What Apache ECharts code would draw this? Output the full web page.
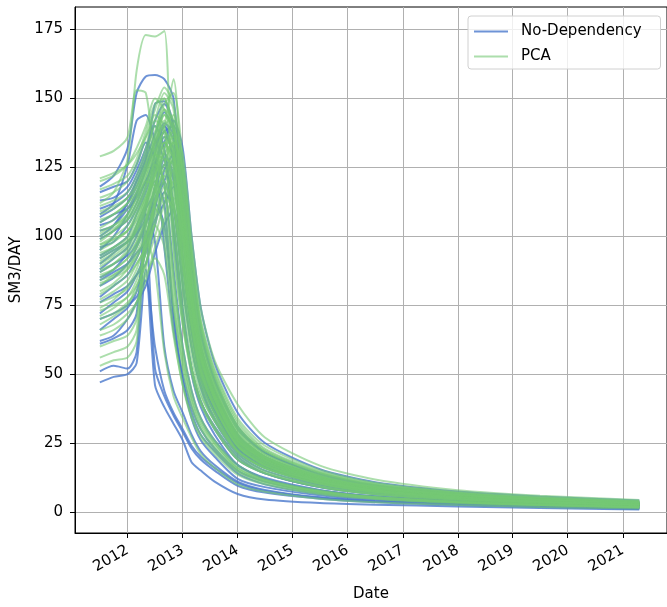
<!DOCTYPE html>
<html>
<head>
<meta charset="utf-8">
<script src="https://cdn.jsdelivr.net/npm/echarts@6/dist/echarts.min.js"></script>
<style>
  html, body { margin: 0; padding: 0; background: #fff; }
  #chart { width: 667px; height: 607px; }
</style>
</head>
<body>
<div id="chart"></div>
<script>
// sample dates shared by every forecast line
const dates = ['2011-07-01', '2011-10-01', '2012-01-01', '2012-03-01', '2012-05-01', '2012-07-01',
  '2012-09-01', '2012-11-01', '2013-01-01', '2013-03-01', '2013-05-01', '2013-08-01', '2014-01-01',
  '2014-07-01', '2015-07-01', '2016-07-01', '2018-01-01', '2019-07-01', '2021-04-20']

// No-Dependency realisations (SM3/DAY)
const noDependency = [
  [118, 122, 132, 152, 158, 158.5, 157, 150, 112, 80, 58, 43, 27, 19.5, 12.5, 8.8, 6.0, 4.3, 3.1],
  [108, 112, 126, 142, 144, 135, 128, 112, 82, 60, 46, 34, 22, 16, 10.5, 7.5, 5.0, 3.7, 2.6],
  [100, 104, 112, 120, 128, 148, 149, 140, 104, 74, 54, 40, 25, 18, 11.5, 8.0, 5.5, 4.0, 2.8],
  [95, 100, 108, 115, 124, 134, 138, 140, 126, 92, 66, 48, 31, 21.5, 13.5, 9.5, 6.6, 4.8, 3.5],
  [47, 49, 50, 54, 88, 46, 38, 32, 26, 18, 15, 11, 6.5, 4.5, 3.2, 2.6, 2.0, 1.4, 0.9],
  [51, 53, 52, 58, 102, 52, 42, 35, 29, 23, 19, 15, 9.5, 7, 4.8, 3.5, 2.5, 1.8, 1.1],
  [61, 63, 66, 72, 110, 120, 112, 70, 48, 36, 28, 22, 14, 10, 6.5, 4.8, 3.3, 2.4, 1.6],
  [66, 70, 74, 80, 96, 118, 126, 104, 74, 52, 40, 30, 19, 14, 9, 6.5, 4.4, 3.2, 2.2],
  [72, 76, 80, 86, 94, 110, 124, 130, 104, 72, 52, 39, 24, 17, 11, 7.8, 5.2, 3.8, 2.6],
  [78, 82, 86, 92, 100, 112, 120, 128, 114, 82, 60, 44, 28, 19.5, 12.2, 8.6, 5.8, 4.2, 3.0],
  [82, 85, 90, 96, 104, 118, 130, 122, 92, 66, 48, 36, 22, 16, 10, 7.2, 4.9, 3.6, 2.5],
  [85, 88, 94, 100, 108, 98, 60, 44, 36, 28, 22, 17, 11, 8, 5.3, 4, 2.9, 2.1, 1.4],
  [88, 92, 96, 104, 112, 124, 136, 132, 108, 78, 57, 41, 26, 18.5, 12, 8.4, 5.6, 4.1, 2.9],
  [90, 94, 98, 102, 110, 116, 128, 120, 92, 66, 49, 37, 23, 17, 10.8, 7.6, 5.1, 3.7, 2.6],
  [93, 96, 100, 108, 116, 126, 138, 128, 100, 74, 54, 40, 25, 18, 11.4, 8, 5.4, 3.9, 2.7],
  [96, 98, 104, 110, 118, 130, 140, 135, 112, 82, 60, 44, 28, 20, 12.8, 9, 6.1, 4.4, 3.1],
  [99, 102, 106, 112, 120, 127, 119, 88, 60, 44, 34, 26, 17, 12, 7.8, 5.6, 3.8, 2.8, 1.9],
  [102, 104, 110, 116, 124, 132, 140, 126, 92, 66, 49, 36, 23, 16.5, 10.5, 7.4, 5, 3.6, 2.5],
  [104, 106, 112, 118, 126, 134, 141, 137, 120, 88, 64, 47, 30, 21.5, 13.8, 9.7, 6.7, 4.9, 3.6],
  [107, 110, 114, 120, 128, 137, 145, 138, 106, 76, 56, 42, 26, 19, 12, 8.4, 5.7, 4.1, 2.9],
  [110, 112, 116, 122, 130, 140, 132, 100, 70, 52, 40, 31, 20, 14, 9, 6.5, 4.4, 3.2, 2.2],
  [113, 114, 118, 124, 132, 142, 148, 140, 110, 78, 58, 43, 27, 19.5, 12.4, 8.7, 5.9, 4.3, 3],
  [116, 118, 120, 126, 134, 128, 96, 66, 50, 38, 30, 23, 15, 11, 7, 5.1, 3.5, 2.5, 1.7],
  [70, 72, 75, 78, 84, 60, 44, 36, 30, 24, 20, 16, 10.5, 7.6, 5.1, 3.8, 2.7, 2, 1.3],
  [76, 79, 82, 86, 90, 104, 116, 110, 84, 60, 45, 33, 21, 15, 9.6, 6.9, 4.7, 3.4, 2.4],
  [84, 87, 90, 94, 98, 106, 112, 118, 102, 76, 56, 42, 26, 18.6, 12, 8.4, 5.7, 4.1, 2.9],
  [87, 90, 93, 97, 105, 114, 120, 104, 72, 50, 38, 28, 17, 12.4, 8, 5.7, 3.9, 2.8, 1.9],
  [92, 95, 98, 101, 106, 112, 104, 72, 48, 34, 26, 20, 12, 9, 6, 4.4, 3.1, 2.2, 1.5],
  [62, 64, 70, 76, 82, 94, 104, 110, 90, 66, 50, 38, 24, 17.5, 11.2, 7.9, 5.4, 3.9, 2.8],
  [105, 108, 110, 114, 120, 126, 134, 142, 132, 100, 74, 54, 36, 25, 15.5, 10.8, 7.4, 5.6, 4.1]
]

// PCA realisations (SM3/DAY)
const pca = [
  [112, 116, 128, 160, 173, 172.5, 174.5, 95, 68, 52, 42, 33, 22, 16, 10.5, 7.5, 5.1, 3.7, 2.6],
  [129, 131, 136, 153, 152, 130, 128, 120, 94, 68, 50, 38, 24, 17, 11, 7.8, 5.3, 3.8, 2.7],
  [98, 102, 108, 114, 122, 130, 140, 157, 118, 84, 61, 45, 28, 20, 12.6, 8.8, 6.0, 4.3, 3.1],
  [120, 122, 126, 132, 140, 150, 146, 138, 110, 80, 59, 43, 27, 19.5, 12.4, 8.7, 5.9, 4.3, 3.0],
  [53, 55, 56, 62, 98, 112, 120, 104, 72, 52, 40, 30, 19, 14, 9, 6.4, 4.4, 3.2, 2.2],
  [56, 58, 60, 66, 100, 88, 58, 42, 34, 27, 21, 16, 10, 7.3, 4.8, 3.5, 2.5, 1.8, 1.2],
  [60, 62, 64, 70, 104, 118, 126, 116, 88, 64, 48, 36, 22, 16, 10.2, 7.3, 4.9, 3.6, 2.5],
  [64, 66, 70, 76, 88, 110, 122, 128, 104, 76, 56, 41, 26, 18.5, 11.8, 8.3, 5.6, 4.1, 2.9],
  [68, 71, 75, 82, 90, 106, 118, 112, 82, 60, 46, 35, 22, 16, 10.3, 7.3, 5, 3.6, 2.5],
  [71, 74, 78, 84, 94, 112, 124, 118, 92, 68, 51, 38, 24, 17, 11, 7.7, 5.2, 3.8, 2.7],
  [74, 77, 82, 88, 98, 114, 128, 126, 106, 78, 57, 42, 26, 19, 12, 8.5, 5.8, 4.2, 3],
  [77, 80, 84, 90, 96, 104, 96, 66, 46, 34, 27, 21, 13.5, 10, 6.4, 4.7, 3.2, 2.4, 1.6],
  [80, 83, 88, 94, 102, 116, 130, 122, 96, 70, 52, 39, 24, 17.5, 11.2, 7.9, 5.4, 3.9, 2.7],
  [82, 86, 90, 96, 106, 120, 134, 128, 100, 74, 55, 41, 25, 18, 11.6, 8.2, 5.5, 4, 2.8],
  [85, 88, 92, 98, 108, 124, 138, 130, 104, 76, 56, 42, 26, 19, 12, 8.5, 5.8, 4.2, 3],
  [87, 90, 95, 100, 110, 126, 120, 86, 60, 44, 34, 26, 17, 12, 7.8, 5.6, 3.8, 2.8, 1.9],
  [89, 92, 96, 102, 112, 128, 142, 134, 108, 78, 58, 43, 27, 19.5, 12.4, 8.7, 5.9, 4.3, 3],
  [91, 94, 98, 104, 114, 122, 132, 136, 120, 88, 64, 47, 30, 21, 13.4, 9.4, 6.5, 4.8, 3.5],
  [93, 96, 100, 106, 116, 130, 144, 138, 110, 78, 57, 43, 27, 19, 12.2, 8.6, 5.8, 4.2, 3],
  [95, 98, 102, 108, 118, 132, 146, 126, 90, 64, 48, 36, 23, 16.5, 10.6, 7.5, 5.1, 3.7, 2.6],
  [97, 100, 104, 110, 120, 134, 140, 144, 122, 90, 66, 49, 31, 22, 14, 9.8, 6.7, 4.9, 3.6],
  [99, 102, 106, 112, 122, 136, 150, 140, 106, 76, 56, 42, 26, 18.8, 12, 8.4, 5.7, 4.1, 2.9],
  [101, 104, 108, 114, 124, 130, 118, 84, 58, 42, 33, 25, 16, 11.5, 7.4, 5.3, 3.7, 2.7, 1.8],
  [103, 106, 110, 116, 126, 138, 148, 152, 128, 94, 68, 50, 32, 22.5, 14.4, 10, 6.9, 5.0, 3.7],
  [105, 108, 112, 118, 128, 140, 130, 96, 68, 50, 39, 30, 19, 14, 9, 6.4, 4.4, 3.2, 2.2],
  [108, 110, 114, 120, 130, 142, 152, 146, 114, 82, 60, 45, 28, 20, 12.8, 9, 6.1, 4.4, 3.1],
  [111, 113, 116, 122, 132, 144, 140, 110, 78, 56, 43, 33, 21, 15, 9.7, 6.9, 4.7, 3.4, 2.4],
  [114, 116, 120, 126, 136, 146, 154, 148, 124, 92, 67, 49, 31, 22, 14, 9.8, 6.8, 5.0, 3.7],
  [117, 119, 122, 128, 138, 148, 150, 132, 100, 72, 53, 40, 25, 18, 11.5, 8.1, 5.5, 4, 2.8],
  [121, 123, 126, 130, 136, 142, 138, 104, 72, 52, 40, 31, 20, 14.4, 9.3, 6.6, 4.5, 3.3, 2.3],
  [79, 82, 86, 90, 96, 112, 126, 134, 126, 96, 70, 52, 34, 24, 15.2, 10.6, 7.3, 5.4, 4.0],
  [86, 88, 92, 96, 104, 118, 132, 138, 130, 100, 74, 55, 39, 27, 16.8, 11.8, 7.9, 5.9, 4.3],
  [92, 95, 98, 102, 110, 122, 134, 124, 92, 68, 50, 38, 24, 17, 11, 7.8, 5.3, 3.8, 2.7],
  [96, 99, 102, 106, 114, 126, 136, 130, 102, 74, 55, 41, 26, 18.5, 11.8, 8.3, 5.6, 4.1, 2.9],
  [100, 103, 106, 110, 118, 128, 138, 132, 104, 76, 56, 41, 25, 18, 11.5, 8.1, 5.5, 4, 2.8],
  [84, 86, 89, 93, 100, 110, 104, 76, 52, 38, 30, 23, 15, 10.8, 7, 5, 3.5, 2.5, 1.7],
  [73, 75, 78, 82, 90, 100, 112, 120, 98, 72, 53, 39, 24, 17.5, 11.2, 7.9, 5.4, 3.9, 2.7],
  [109, 111, 114, 118, 126, 136, 146, 142, 112, 80, 59, 44, 28, 20, 12.7, 8.9, 6, 4.4, 3.1],
  [66, 68, 72, 76, 84, 96, 106, 114, 100, 76, 57, 42, 27, 19.5, 12.4, 8.7, 5.9, 4.3, 3],
  [94, 96, 99, 104, 112, 120, 110, 80, 56, 41, 32, 25, 16, 11.6, 7.5, 5.3, 3.7, 2.7, 1.8],
  [90, 93, 97, 103, 112, 124, 134, 128, 110, 80, 60, 45, 29, 20.5, 13, 9.1, 6.2, 4.5, 3.2],
  [83, 85, 88, 92, 100, 108, 116, 124, 112, 84, 62, 46, 29, 20, 12.8, 9, 6.1, 4.4, 3.1],
  [102, 104, 107, 112, 120, 118, 100, 74, 54, 40, 31, 24, 15.5, 11.2, 7.2, 5.2, 3.6, 2.6, 1.8],
  [76, 78, 81, 86, 94, 104, 114, 110, 90, 68, 51, 38, 24, 17, 11, 7.7, 5.3, 3.8, 2.7],
  [88, 90, 94, 98, 106, 116, 122, 112, 84, 60, 45, 34, 22, 15.8, 10.2, 7.2, 4.9, 3.6, 2.5],
  [106, 108, 112, 116, 124, 134, 144, 140, 116, 86, 63, 47, 30, 21, 13.3, 9.3, 6.4, 4.6, 3.3],
  [70, 72, 76, 80, 86, 92, 86, 64, 46, 35, 28, 22, 14.5, 10.5, 6.8, 4.9, 3.4, 2.5, 1.7],
  [97, 99, 102, 108, 114, 122, 130, 134, 124, 94, 69, 51, 33, 23, 14.6, 10.2, 7, 5.2, 3.8]
]

const yTicks = [0, 25, 50, 75, 100, 125, 150, 175]
const xTickYears = [2012, 2013, 2014, 2015, 2016, 2017, 2018, 2019, 2020, 2021]

const blue = '#4a78cc'
const green = '#74c874'
const font = 'DejaVu Sans'

const toTime = function (s) {
  let p = s.split('-').map(Number)
  return new Date(p[0], p[1] - 1, p[2]).getTime()
}
const yearTicks = xTickYears.map(y => new Date(y, 0, 1).getTime())

function makeLines(name, rows, color, opacity) {
  return rows.map(row => ({
    name: name,
    type: 'line',
    symbol: 'none',
    smooth: 0.25,
    silent: true,
    data: row.map((v, i) => [toTime(dates[i]), v]),
    lineStyle: { color: color, width: 2, opacity: opacity },
    itemStyle: { color: color, opacity: opacity }
  }))
}

let chart = echarts.init(document.getElementById('chart'))
let option = {
  animation: false,
  backgroundColor: '#fff',
  textStyle: { fontFamily: font },
  grid: {
    left: 75, top: 7, right: -2, bottom: 74,
    show: true, borderColor: '#000', borderWidth: 1
  },
  legend: {
    left: 468, top: 16,
    orient: 'vertical',
    data: ['No-Dependency', 'PCA'],
    icon: 'rect',
    itemWidth: 34, itemHeight: 2, itemGap: 10,
    padding: [8, 19, 5, 6],
    borderColor: '#d0d0d0', borderWidth: 1, borderRadius: 3,
    backgroundColor: 'rgba(255,255,255,0.8)',
    textStyle: { fontFamily: font, fontSize: 15, color: '#000', padding: [0, 0, 0, 8] }
  },
  xAxis: {
    type: 'value',
    min: new Date(2011, 0, 17).getTime(),
    max: new Date(2021, 9, 21).getTime(),
    name: 'Date',
    nameLocation: 'middle',
    nameGap: 54,
    nameTextStyle: { fontFamily: font, fontSize: 15, color: '#000' },
    axisLine: { show: true, onZero: false, lineStyle: { color: '#000', width: 1 } },
    axisTick: { show: true, length: 5, lineStyle: { color: '#000' }, customValues: yearTicks },
    axisLabel: {
      rotate: 30, margin: 16, fontFamily: font, fontSize: 15, color: '#000',
      customValues: yearTicks,
      formatter: (value) => String(new Date(value).getFullYear())
    },
    splitLine: { show: true, lineStyle: { color: '#b0b0b0', width: 1 } }
  },
  yAxis: {
    type: 'value',
    min: -7.65,
    max: 183.2,
    name: 'SM3/DAY',
    nameLocation: 'middle',
    nameGap: 50,
    nameTextStyle: { fontFamily: font, fontSize: 15, color: '#000' },
    axisLine: { show: true, onZero: false, lineStyle: { color: '#000', width: 1 } },
    axisTick: { show: true, length: 5, lineStyle: { color: '#000' }, customValues: yTicks },
    axisLabel: { margin: 12, fontFamily: font, fontSize: 15, color: '#000', customValues: yTicks },
    splitLine: { show: true, lineStyle: { color: '#b0b0b0', width: 1 } }
  },
  series: makeLines('No-Dependency', noDependency, blue, 0.8)
    .concat(makeLines('PCA', pca, green, 0.6))
}
chart.setOption(option)
</script>
</body>
</html>
